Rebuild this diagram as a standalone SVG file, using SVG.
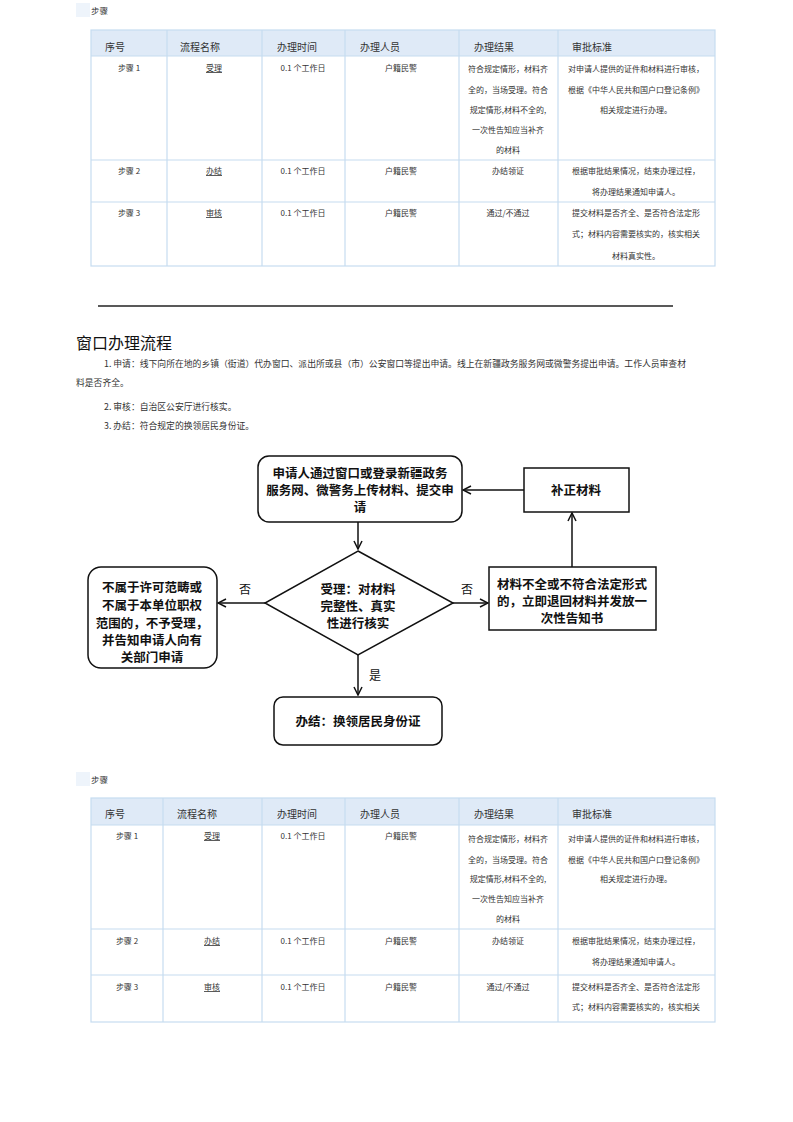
<svg xmlns="http://www.w3.org/2000/svg" width="793" height="1122" viewBox="0 0 793 1122">
<defs>
<style>
.t{font-family:"Noto Sans CJK SC","Liberation Serif",serif;fill:#333;}
.h{font-size:10px;}
.b{font-size:8px;text-anchor:middle;}
.u{text-decoration:underline;}
.grid{stroke:#c6dcf0;stroke-width:1.2;fill:none;}
.hdr{fill:#dfeaf7;}
.fc{font-family:"Noto Sans CJK SC","Liberation Serif",serif;font-size:12.5px;font-weight:bold;fill:#111;text-anchor:middle;}
.lbl{font-family:"Noto Sans CJK SC","Liberation Serif",serif;font-size:12px;fill:#111;text-anchor:middle;}
.shape{fill:#fff;stroke:#111;stroke-width:1.5;}
.edge{stroke:#111;stroke-width:1.5;fill:none;}
.p{font-family:"Noto Sans CJK SC","Liberation Serif",serif;font-size:8.8px;fill:#333;}
</style>
<marker id="arr" markerWidth="10" markerHeight="10" refX="9" refY="5" orient="auto" markerUnits="userSpaceOnUse">
<path d="M1,1 L9,5 L1,9" fill="none" stroke="#111" stroke-width="1.5"/>
</marker>
</defs>
<rect width="793" height="1122" fill="#fff"/>

<!-- Top table -->
<g id="table1">
<rect x="76" y="3" width="14" height="14" fill="#eef4fb"/>
<text class="t" x="91" y="14" font-size="8.5">步骤</text>
<rect class="hdr" x="91" y="30" width="624" height="26"/>
<g class="grid">
<rect x="91" y="30" width="624" height="236"/>
<line x1="91" y1="56" x2="715" y2="56"/>
<line x1="91" y1="160" x2="715" y2="160"/>
<line x1="91" y1="202" x2="715" y2="202"/>
<line x1="167" y1="30" x2="167" y2="266"/>
<line x1="262" y1="30" x2="262" y2="266"/>
<line x1="345" y1="30" x2="345" y2="266"/>
<line x1="459" y1="30" x2="459" y2="266"/>
<line x1="558" y1="30" x2="558" y2="266"/>
</g>
<text class="t h" x="105" y="51">序号</text>
<text class="t h" x="180" y="51">流程名称</text>
<text class="t h" x="277" y="51">办理时间</text>
<text class="t h" x="360" y="51">办理人员</text>
<text class="t h" x="474" y="51">办理结果</text>
<text class="t h" x="572" y="51">审批标准</text>
<text class="t b" x="129" y="71">步骤 1</text>
<text class="t b u" x="214" y="71">受理</text>
<text class="t b" x="303" y="71">0.1 个工作日</text>
<text class="t b" x="401" y="71">户籍民警</text>
<text class="t b" x="508" y="72">符合规定情形，材料齐</text>
<text class="t b" x="508" y="93">全的，当场受理。符合</text>
<text class="t b" x="508" y="113">规定情形,材料不全的,</text>
<text class="t b" x="508" y="133">一次性告知应当补齐</text>
<text class="t b" x="508" y="153">的材料</text>
<text class="t b" x="636" y="72">对申请人提供的证件和材料进行审核，</text>
<text class="t b" x="636" y="93">根据《中华人民共和国户口登记条例》</text>
<text class="t b" x="636" y="113">相关规定进行办理。</text>
<text class="t b" x="129" y="174">步骤 2</text>
<text class="t b u" x="214" y="174">办结</text>
<text class="t b" x="303" y="174">0.1 个工作日</text>
<text class="t b" x="401" y="174">户籍民警</text>
<text class="t b" x="508" y="174">办结领证</text>
<text class="t b" x="636" y="174">根据审批结果情况，结束办理过程，</text>
<text class="t b" x="636" y="195">将办理结果通知申请人。</text>
<text class="t b" x="129" y="216">步骤 3</text>
<text class="t b u" x="214" y="216">审核</text>
<text class="t b" x="303" y="216">0.1 个工作日</text>
<text class="t b" x="401" y="216">户籍民警</text>
<text class="t b" x="508" y="216">通过/不通过</text>
<text class="t b" x="636" y="216">提交材料是否齐全、是否符合法定形</text>
<text class="t b" x="636" y="237">式；材料内容需要核实的，核实相关</text>
<text class="t b" x="636" y="259">材料真实性。</text>
</g>

<line x1="98" y1="306" x2="673" y2="306" stroke="#222" stroke-width="1.5"/>

<g id="intro">
<text x="76" y="349" font-family="Noto Sans CJK SC, Liberation Sans, sans-serif" font-size="16" fill="#111">窗口办理流程</text>
<text class="p" x="104" y="367" textLength="582" lengthAdjust="spacingAndGlyphs">1. 申请：线下向所在地的乡镇（街道）代办窗口、派出所或县（市）公安窗口等提出申请。线上在新疆政务服务网或微警务提出申请。工作人员审查材</text>
<text class="p" x="76" y="386">料是否齐全。</text>
<text class="p" x="104" y="410">2. 审核：自治区公安厅进行核实。</text>
<text class="p" x="104" y="429">3. 办结：符合规定的换领居民身份证。</text>
</g>

<!-- Flowchart -->
<g id="connectors">
<line class="edge" x1="358" y1="522" x2="358" y2="549" marker-end="url(#arr)"/>
<line class="edge" x1="265" y1="603" x2="218" y2="603" marker-end="url(#arr)"/>
<line class="edge" x1="453" y1="603" x2="488" y2="603" marker-end="url(#arr)"/>
<line class="edge" x1="572" y1="567" x2="572" y2="513" marker-end="url(#arr)"/>
<line class="edge" x1="524" y1="490" x2="463" y2="490" marker-end="url(#arr)"/>
<line class="edge" x1="358" y1="655" x2="358" y2="695" marker-end="url(#arr)"/>
<text class="lbl" x="245" y="594">否</text>
<text class="lbl" x="467" y="594">否</text>
<text class="lbl" x="375" y="680">是</text>
</g>
<g id="n_apply">
<rect class="shape" x="258" y="456" width="204" height="66" rx="11"/>
<text class="fc" x="360" y="478">申请人通过窗口或登录新疆政务</text>
<text class="fc" x="360" y="495">服务网、微警务上传材料、提交申</text>
<text class="fc" x="360" y="512">请</text>
</g>
<g id="n_decide">
<polygon class="shape" points="358,551 453,603 358,655 265,603"/>
<text class="fc" x="358" y="594">受理：对材料</text>
<text class="fc" x="358" y="611">完整性、真实</text>
<text class="fc" x="358" y="628">性进行核实</text>
</g>
<g id="n_reject">
<rect class="shape" x="88" y="567" width="129" height="101" rx="13"/>
<text class="fc" x="152" y="592">不属于许可范畴或</text>
<text class="fc" x="152" y="610">不属于本单位职权</text>
<text class="fc" x="152" y="628">范围的，不予受理，</text>
<text class="fc" x="152" y="645">并告知申请人向有</text>
<text class="fc" x="152" y="662">关部门申请</text>
</g>
<g id="n_incomplete">
<rect class="shape" x="489" y="567" width="167" height="63"/>
<text class="fc" x="572" y="589">材料不全或不符合法定形式</text>
<text class="fc" x="572" y="606">的，立即退回材料并发放一</text>
<text class="fc" x="572" y="623">次性告知书</text>
</g>
<g id="n_supplement">
<rect class="shape" x="524" y="468" width="105" height="44"/>
<text class="fc" x="576" y="495">补正材料</text>
</g>
<g id="n_done">
<rect class="shape" x="274" y="697" width="168" height="48" rx="9"/>
<text class="fc" x="358" y="726">办结：换领居民身份证</text>
</g>

<!-- Bottom table -->
<g id="table2">
<rect x="76" y="772" width="14" height="14" fill="#eef4fb"/>
<text class="t" x="91" y="783" font-size="8.5">步骤</text>
<rect class="hdr" x="91" y="798" width="624" height="27"/>
<g class="grid">
<rect x="91" y="798" width="624" height="224"/>
<line x1="91" y1="825" x2="715" y2="825"/>
<line x1="91" y1="929" x2="715" y2="929"/>
<line x1="91" y1="975" x2="715" y2="975"/>
<line x1="163" y1="798" x2="163" y2="1022"/>
<line x1="262" y1="798" x2="262" y2="1022"/>
<line x1="345" y1="798" x2="345" y2="1022"/>
<line x1="459" y1="798" x2="459" y2="1022"/>
<line x1="558" y1="798" x2="558" y2="1022"/>
</g>
<text class="t h" x="105" y="818">序号</text>
<text class="t h" x="177" y="818">流程名称</text>
<text class="t h" x="277" y="818">办理时间</text>
<text class="t h" x="360" y="818">办理人员</text>
<text class="t h" x="474" y="818">办理结果</text>
<text class="t h" x="572" y="818">审批标准</text>
<text class="t b" x="127" y="839">步骤 1</text>
<text class="t b u" x="212" y="839">受理</text>
<text class="t b" x="303" y="839">0.1 个工作日</text>
<text class="t b" x="401" y="839">户籍民警</text>
<text class="t b" x="508" y="842">符合规定情形，材料齐</text>
<text class="t b" x="508" y="863">全的，当场受理。符合</text>
<text class="t b" x="508" y="882">规定情形,材料不全的,</text>
<text class="t b" x="508" y="902">一次性告知应当补齐</text>
<text class="t b" x="508" y="922">的材料</text>
<text class="t b" x="636" y="842">对申请人提供的证件和材料进行审核，</text>
<text class="t b" x="636" y="863">根据《中华人民共和国户口登记条例》</text>
<text class="t b" x="636" y="882">相关规定进行办理。</text>
<text class="t b" x="127" y="944">步骤 2</text>
<text class="t b u" x="212" y="944">办结</text>
<text class="t b" x="303" y="944">0.1 个工作日</text>
<text class="t b" x="401" y="944">户籍民警</text>
<text class="t b" x="508" y="944">办结领证</text>
<text class="t b" x="636" y="944">根据审批结果情况，结束办理过程，</text>
<text class="t b" x="636" y="965">将办理结果通知申请人。</text>
<text class="t b" x="127" y="990">步骤 3</text>
<text class="t b u" x="212" y="990">审核</text>
<text class="t b" x="303" y="990">0.1 个工作日</text>
<text class="t b" x="401" y="990">户籍民警</text>
<text class="t b" x="508" y="990">通过/不通过</text>
<text class="t b" x="636" y="990">提交材料是否齐全、是否符合法定形</text>
<text class="t b" x="636" y="1010">式；材料内容需要核实的，核实相关</text>
</g>
</svg>
